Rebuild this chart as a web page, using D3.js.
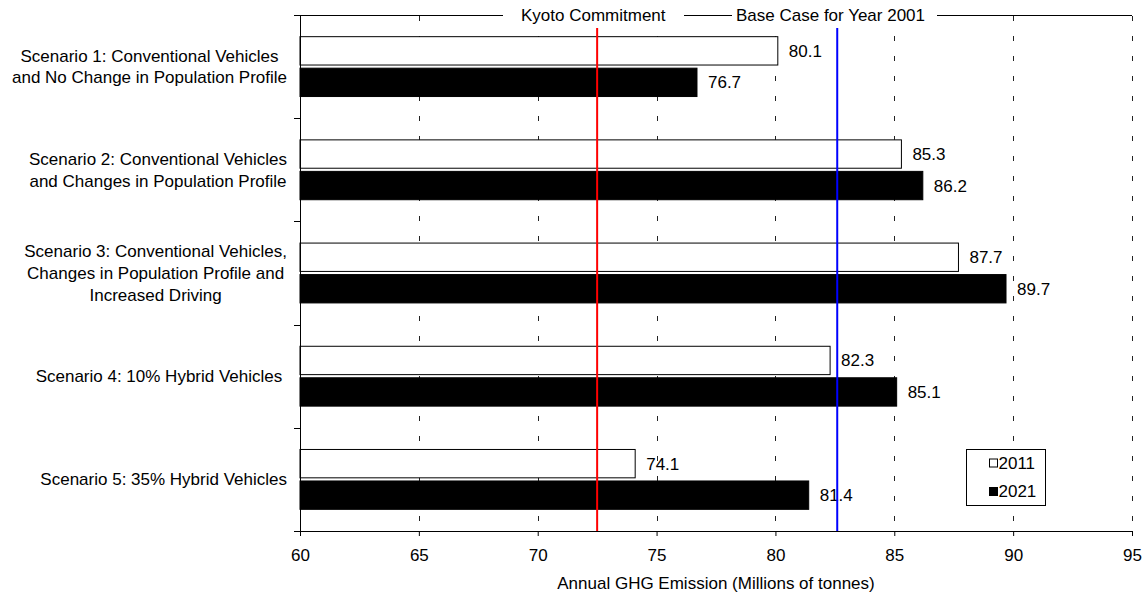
<!DOCTYPE html>
<html><head><meta charset="utf-8">
<script src="https://cdn.jsdelivr.net/npm/d3@7"></script>
<style>
body{margin:0;background:#fff;}
text{font-family:"Liberation Sans",Arial,sans-serif;font-size:17px;fill:#000;}
</style></head>
<body><svg id="c" width="1145" height="594"></svg>
<script>
const categories = [
  ["Scenario 1: Conventional Vehicles","and No Change in Population Profile"],
  ["Scenario 2: Conventional Vehicles","and Changes in Population Profile"],
  ["Scenario 3: Conventional Vehicles,","Changes in Population Profile and","Increased Driving"],
  ["Scenario 4: 10% Hybrid Vehicles "],
  ["Scenario 5: 35% Hybrid Vehicles"]
];
const seriesNames = ["2011","2021"];
const values2011 = [80.1, 85.3, 87.7, 82.3, 74.1];
const values2021 = [76.7, 86.2, 89.7, 85.1, 81.4];
const xTicks = [60,65,70,75,80,85,90,95];
const refNames = ["Kyoto Commitment","Base Case for Year 2001"];
const refValues = [72.5, 82.6];
const refColors = ["#ff0000","#0000ff"];
const xTitle = "Annual GHG Emission (Millions of tonnes)";

const svg = d3.select("#c");
const L=300, R=1132, T=15, B=531;
const x = d3.scaleLinear().domain([60,95]).range([L,R]);
const y = d3.scaleBand().domain(d3.range(categories.length)).range([T,B]).paddingInner(0.42).paddingOuter(0.21);
const ys = d3.scaleBand().domain(seriesNames).range([0,y.bandwidth()]).paddingInner(0.1);

// gridlines
svg.append("g").selectAll("line").data(xTicks.slice(1)).join("line")
  .attr("x1",d=>Math.round(x(d))+0.5).attr("x2",d=>Math.round(x(d))+0.5)
  .attr("y1",T).attr("y2",B)
  .attr("stroke","#222").attr("stroke-width",1).attr("stroke-dasharray","5,15").attr("stroke-dashoffset",-1);

// bars
const rows = categories.map((c,i)=>({i, vals:[values2011[i], values2021[i]]}));
const g = svg.append("g");
rows.forEach(r=>{
  r.vals.forEach((v,k)=>{
    const yy = y(r.i)+ys(seriesNames[k]);
    g.append("rect").attr("x",x(60)).attr("y",yy).attr("width",x(v)-x(60)).attr("height",ys.bandwidth())
      .attr("fill",k===0?"#fff":"#000").attr("stroke","#000").attr("stroke-width",1);
    g.append("text").attr("x",x(v)+11).attr("y",yy+ys.bandwidth()/2).attr("dy","0.35em").text(v.toFixed(1));
  });
});

// reference lines
refValues.forEach((v,i)=>{
  svg.append("line").attr("x1",x(v)).attr("x2",x(v)).attr("y1",28).attr("y2",B)
    .attr("stroke",refColors[i]).attr("stroke-width",2);
});

// axes
svg.append("line").attr("x1",L-5).attr("x2",R).attr("y1",T+0.5).attr("y2",T+0.5).attr("stroke","#000");
const xAxis = svg.append("g").attr("transform",`translate(0,${B})`)
  .call(d3.axisBottom(x).tickValues(xTicks).tickSize(5).tickPadding(13).tickSizeOuter(0));
xAxis.select(".domain").attr("d",`M${L-5},0.5H${R}`);
xAxis.selectAll("text").style("font-size","17px").style("font-family","Liberation Sans, Arial, sans-serif");
svg.append("line").attr("x1",L+0.5).attr("x2",L+0.5).attr("y1",T).attr("y2",B).attr("stroke","#000");
const bounds = d3.range(categories.length+1).map(i=>T+i*(B-T)/categories.length);
svg.append("g").selectAll("line").data(bounds).join("line")
  .attr("x1",L-6).attr("x2",L).attr("y1",d=>Math.round(d)+0.5).attr("y2",d=>Math.round(d)+0.5).attr("stroke","#000");

// category labels
categories.forEach((lines,i)=>{
  const cy = y(i)+y.bandwidth()/2;
  const lh = 21.7;
  const grp = svg.append("g");
  const ts = lines.map((s,j)=>grp.append("text").style("white-space","pre").attr("text-anchor","middle")
      .attr("y",cy+(j-(lines.length-1)/2)*lh).attr("dy","0.35em").text(s));
  const w = d3.max(ts,t=>t.node().getComputedTextLength());
  ts.forEach(t=>t.attr("x",287-w/2));
});

// axis title
svg.append("text").attr("x",(L+R)/2).attr("y",583).attr("dy","0.35em").attr("text-anchor","middle").text(xTitle);

// top legend labels
const topItems = [{name:refNames[0], x0:503, x1:684, tx:521},{name:refNames[1], x0:732, x1:937, tx:736}];
topItems.forEach(it=>{
  svg.append("rect").attr("x",it.x0).attr("y",5).attr("width",it.x1-it.x0).attr("height",20).attr("fill","#fff");
  svg.append("text").attr("x",it.tx).attr("y",15).attr("dy","0.35em").text(it.name);
});

// legend
const lg = svg.append("g");
lg.append("rect").attr("x",966.5).attr("y",449.5).attr("width",79).attr("height",56).attr("fill","#fff").attr("stroke","#000");
seriesNames.forEach((s,k)=>{
  const cy = 463+k*28.5;
  lg.append("rect").attr("x",989.5).attr("y",cy-4).attr("width",8).attr("height",8)
    .attr("fill",k===0?"#fff":"#000").attr("stroke","#000");
  lg.append("text").attr("x",998.5).attr("y",cy).attr("dy","0.35em").text(s);
});
</script></body></html>
